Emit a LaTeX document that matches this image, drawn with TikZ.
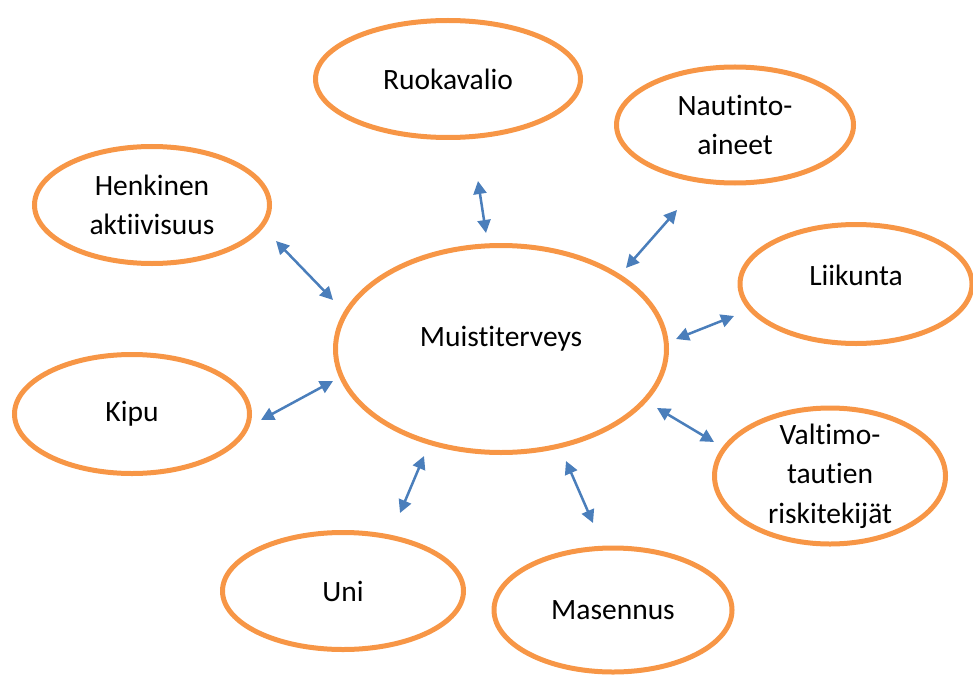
\documentclass[tikz,border=0pt]{standalone}
\usepackage{fontspec}
\setmainfont{Carlito}[Ligatures=NoCommon]
\usetikzlibrary{shapes.geometric,arrows.meta}
\definecolor{ringorange}{HTML}{F79646}
\definecolor{linkblue}{HTML}{4A7EBB}

\begin{document}
\begin{tikzpicture}[x=1pt, y=-1pt, font=\fontsize{29.5}{39.5}\selectfont,
    topic/.style = {ellipse, draw = ringorange, line width = 5pt, align = center, inner sep = -12pt},
    link/.style = {linkblue, line width = 2.5pt, {Triangle[length=13pt,width=13pt]}-{Triangle[length=13pt,width=13pt]}}]
        \useasboundingbox (0,0) rectangle (973,695);

        % middle
        \node[topic, minimum width = 331pt, minimum height = 207pt, text depth = 25pt] (muisti) at (501,349) {Muistiterveys};

        % ring of topics
        \node[topic, minimum width = 265pt, minimum height = 117pt] (ruoka) at (448,79) {Ruokavalio};
        \node[topic, minimum width = 237pt, minimum height = 116pt] (nautinto) at (735,125) {Nautinto-\\aineet};
        \node[topic, minimum width = 235pt, minimum height = 117pt] (henkinen) at (152,205) {Henkinen\\aktiivisuus};
        \node[topic, minimum width = 232pt, minimum height = 119pt, text depth = 18pt] (liikunta) at (856,284) {Liikunta};
        \node[topic, minimum width = 235pt, minimum height = 119pt] (kipu) at (132,414) {Kipu};
        \node[topic, minimum width = 231pt, minimum height = 136pt] (valtimo) at (830,476) {Valtimo-\\tautien\\riskitekijät};
        \node[topic, minimum width = 241pt, minimum height = 117pt] (uni) at (343,591) {Uni};
        \node[topic, minimum width = 238pt, minimum height = 124pt] (masennus) at (613,610) {Masennus};

        % arrow ends
        \coordinate (ruoka-a) at (478,181);    \coordinate (ruoka-b) at (486,233);
        \coordinate (nautinto-a) at (677,210); \coordinate (nautinto-b) at (626,268);
        \coordinate (henkinen-a) at (276,241); \coordinate (henkinen-b) at (333,300);
        \coordinate (liikunta-a) at (734,316); \coordinate (liikunta-b) at (676,339);
        \coordinate (kipu-a) at (261,420);     \coordinate (kipu-b) at (333,381);
        \coordinate (valtimo-a) at (714,442);  \coordinate (valtimo-b) at (657,408);
        \coordinate (uni-a) at (400,513);      \coordinate (uni-b) at (424,456);
        \coordinate (masennus-a) at (593,523); \coordinate (masennus-b) at (566,461);

        \draw[link] (ruoka-a) -- (ruoka-b);
        \draw[link] (nautinto-a) -- (nautinto-b);
        \draw[link] (henkinen-a) -- (henkinen-b);
        \draw[link] (liikunta-a) -- (liikunta-b);
        \draw[link] (kipu-a) -- (kipu-b);
        \draw[link] (valtimo-a) -- (valtimo-b);
        \draw[link] (uni-a) -- (uni-b);
        \draw[link] (masennus-a) -- (masennus-b);
    \end{tikzpicture}
\end{document}
